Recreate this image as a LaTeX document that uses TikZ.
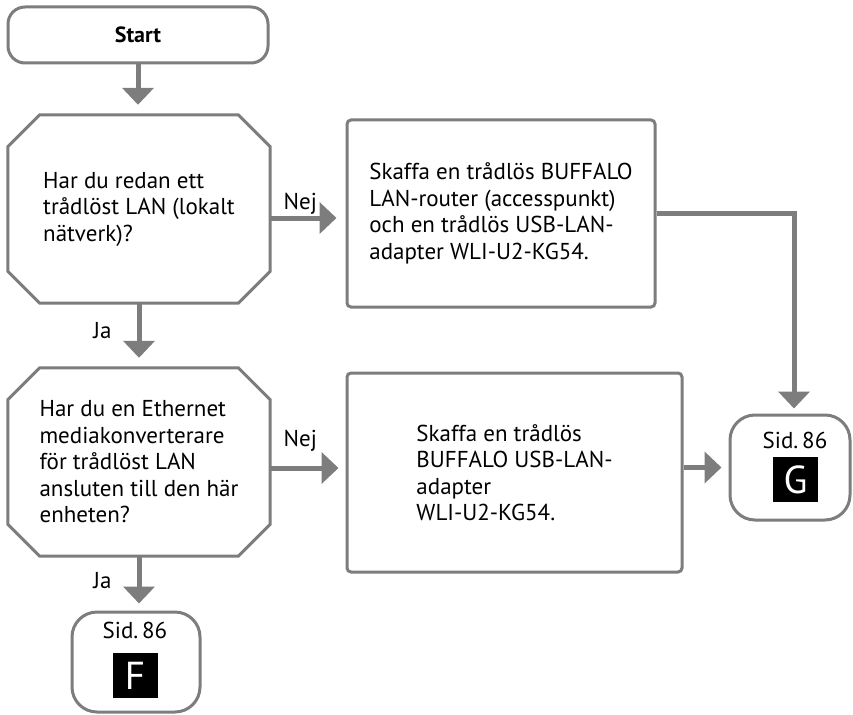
\documentclass[tikz,border=0pt]{standalone}
\usepackage{fontspec}
\setmainfont{PT Sans}
\usetikzlibrary{arrows.meta}

\definecolor{lineGray}{RGB}{125,125,125}

% octagon outline round a node
\newcommand\octpath[1]{%
  \draw[octline] ([xshift=32pt]#1.north west) -- ([xshift=-32pt]#1.north east)
    -- ([yshift=-32pt]#1.north east) -- ([yshift=32pt]#1.south east)
    -- ([xshift=-32pt]#1.south east) -- ([xshift=32pt]#1.south west)
    -- ([yshift=32pt]#1.south west) -- ([yshift=-32pt]#1.north west) -- cycle;}

\tikzset{
  txt/.style={font=\fontsize{23}{26.5}\selectfont},
  box/.style={draw=lineGray, line width=3pt, fill=white, inner sep=0pt, txt},
  startbox/.style={box, rounded corners=17pt, minimum width=260pt, minimum height=56pt,
    font=\bfseries\fontsize{22}{24}\selectfont},
  octline/.style={draw=lineGray, line width=3pt, line join=miter},
  ask/.style={inner sep=0pt, minimum width=262pt, minimum height=188pt, align=left, txt},
  todo/.style={box, rounded corners=4pt, align=left},
  page/.style={box, rounded corners=25pt},
  sid/.style={anchor=base, inner sep=0pt, txt},
  tag/.style={fill=black, text=white, minimum size=45pt, inner sep=0pt, text depth=0pt,
    font=\fontsize{39}{39}\selectfont},
  flow/.style={draw=lineGray, line width=5pt, -{Triangle[width=31pt,length=17pt]}},
  lbl/.style={inner sep=1pt, txt}
}

\begin{document}
\begin{tikzpicture}[x=1pt, y=-1pt]
  \useasboundingbox (0,0) rectangle (853,714);

  \node[startbox] (start) at (138,35) {Start};

  % questions
  \node[ask] (q1) at (139,209) {Har du redan ett\\trådlöst LAN (lokalt\\nätverk)?};
  \octpath{q1}
  \node[ask] (q2) at (139,462) {Har du en Ethernet\\mediakonverterare\\för trådlöst LAN\\ansluten till den här\\enheten?};
  \octpath{q2}

  % what to get
  \node[todo, minimum width=308pt, minimum height=187pt] (b1) at (501,213.5)
    {Skaffa en trådlös BUFFALO\\LAN-router (accesspunkt)\\och en trådlös USB-LAN-\\adapter WLI-U2-KG54.};
  \node[todo, minimum width=335pt, minimum height=199pt] (b2) at (514.5,472.5)
    {Skaffa en trådlös\\BUFFALO USB-LAN-\\adapter\\WLI-U2-KG54.};

  % page references
  \node[page, minimum width=120pt, minimum height=105pt] (pG) at (790,467.5) {};
  \node[sid] (sG) at (795,448) {Sid.\,86};
  \node[tag] (tG) at (795.5,479.5) {G};
  \node[page, minimum width=128pt, minimum height=100pt] (pF) at (136,662) {};
  \node[sid] (sF) at (135,638) {Sid.\,86};
  \node[tag] (tF) at (135,675.5) {F};

  % connectors
  \draw[flow, shorten >=10pt] (start.south) -- (start.south |- q1.north);
  \draw[flow, shorten >=10pt] (q1.south) -- node[lbl, left=24pt, pos=0.42] {Ja} (q1.south |- q2.north);
  \draw[flow, shorten >=9pt] ([yshift=-9pt]q1.east) -- node[lbl, above, pos=0.4] {Nej} ([yshift=-9pt]q1.east -| b1.west);
  \draw[flow, shorten >=5pt] (b1.east) -| ([xshift=4pt]pG.north);
  \draw[flow, shorten >=7pt] ([yshift=-6pt]q2.east) -- node[lbl, above=13pt, pos=0.4] {Nej} ([yshift=-6pt]q2.east -| b2.west);
  \draw[flow, shorten >=7pt] (b2.east |- pG.west) -- (pG.west);
  \draw[flow, shorten >=7pt] (q2.south) -- node[lbl, left=24pt, pos=0.45] {Ja} (q2.south |- pF.north);
\end{tikzpicture}
\end{document}
